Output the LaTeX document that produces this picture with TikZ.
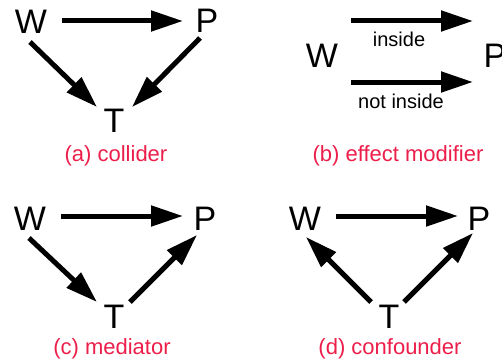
\documentclass[tikz,border=0pt]{standalone}
\usepackage{fontspec}
\setmainfont{Liberation Sans}
\usetikzlibrary{arrows.meta,calc}
\definecolor{capred}{RGB}{236,30,74}
\tikzset{
  var/.style={inner sep=0pt,font=\fontsize{34}{36}\selectfont},
  lbl/.style={inner sep=0pt,font=\fontsize{20}{22}\selectfont},
  captxt/.style={inner sep=0pt,text=capred,font=\fontsize{22}{24}\selectfont},
  arr/.style={line width=5pt,-{Triangle[length=32pt,width=20pt]}}
}
\begin{document}
\begin{tikzpicture}[x=1pt,y=-1pt]
\useasboundingbox (0,0) rectangle (502,361);
% (a) collider
\node[var] (Wa) at (31,22) {W};
\node[var] (Pa) at (207,21) {P};
\node[var] (Ta) at (114,121) {T};
\node[captxt] (ca) at (116,156) {(a) collider};
\draw[arr] ($(Wa)+(31,-1)$) -- ($(Pa)+(-24,0)$);
\draw[arr] ($(Wa)+(-1,20)$) -- ($(Ta)+(-17,-14)$);
\draw[arr] ($(Pa)+(-7,17)$) -- ($(Ta)+(18,-14)$);
% (b) effect modifier
\node[var] (Wb) at (322,56) {W};
\node[var] (Pb) at (495,56) {P};
\node[lbl] (in) at (399,39.5) {inside};
\node[lbl] (nin) at (401,101) {not inside};
\node[captxt] (cb) at (398,156) {(b) effect modifier};
\draw[arr] ($(Wb)+(29,-35)$) -- ($(Pb)+(-22,-35)$);
\draw[arr] ($(Wb)+(29,26)$) -- ($(Pb)+(-22,26)$);
% (c) mediator
\node[var] (Wc) at (30,219) {W};
\node[var] (Pc) at (205,219) {P};
\node[var] (Tc) at (114,317) {T};
\node[captxt] (cc) at (112,349) {(c) mediator};
\draw[arr] ($(Wc)+(31,-3)$) -- ($(Pc)+(-22,-3)$);
\draw[arr] ($(Wc)+(-1,19)$) -- ($(Tc)+(-17,-15)$);
\draw[arr] ($(Tc)+(16,-15)$) -- ($(Pc)+(-8,16)$);
% (d) confounder
\node[var] (Wd) at (305,219) {W};
\node[var] (Pd) at (479,219) {P};
\node[var] (Td) at (389,317) {T};
\node[captxt] (cd) at (390,349) {(d) confounder};
\draw[arr] ($(Wd)+(31,-3)$) -- ($(Pd)+(-21,-3)$);
\draw[arr] ($(Td)+(-18,-15)$) -- ($(Wd)+(1,18)$);
\draw[arr] ($(Td)+(15,-15)$) -- ($(Pd)+(-6,14)$);
\end{tikzpicture}
\end{document}
